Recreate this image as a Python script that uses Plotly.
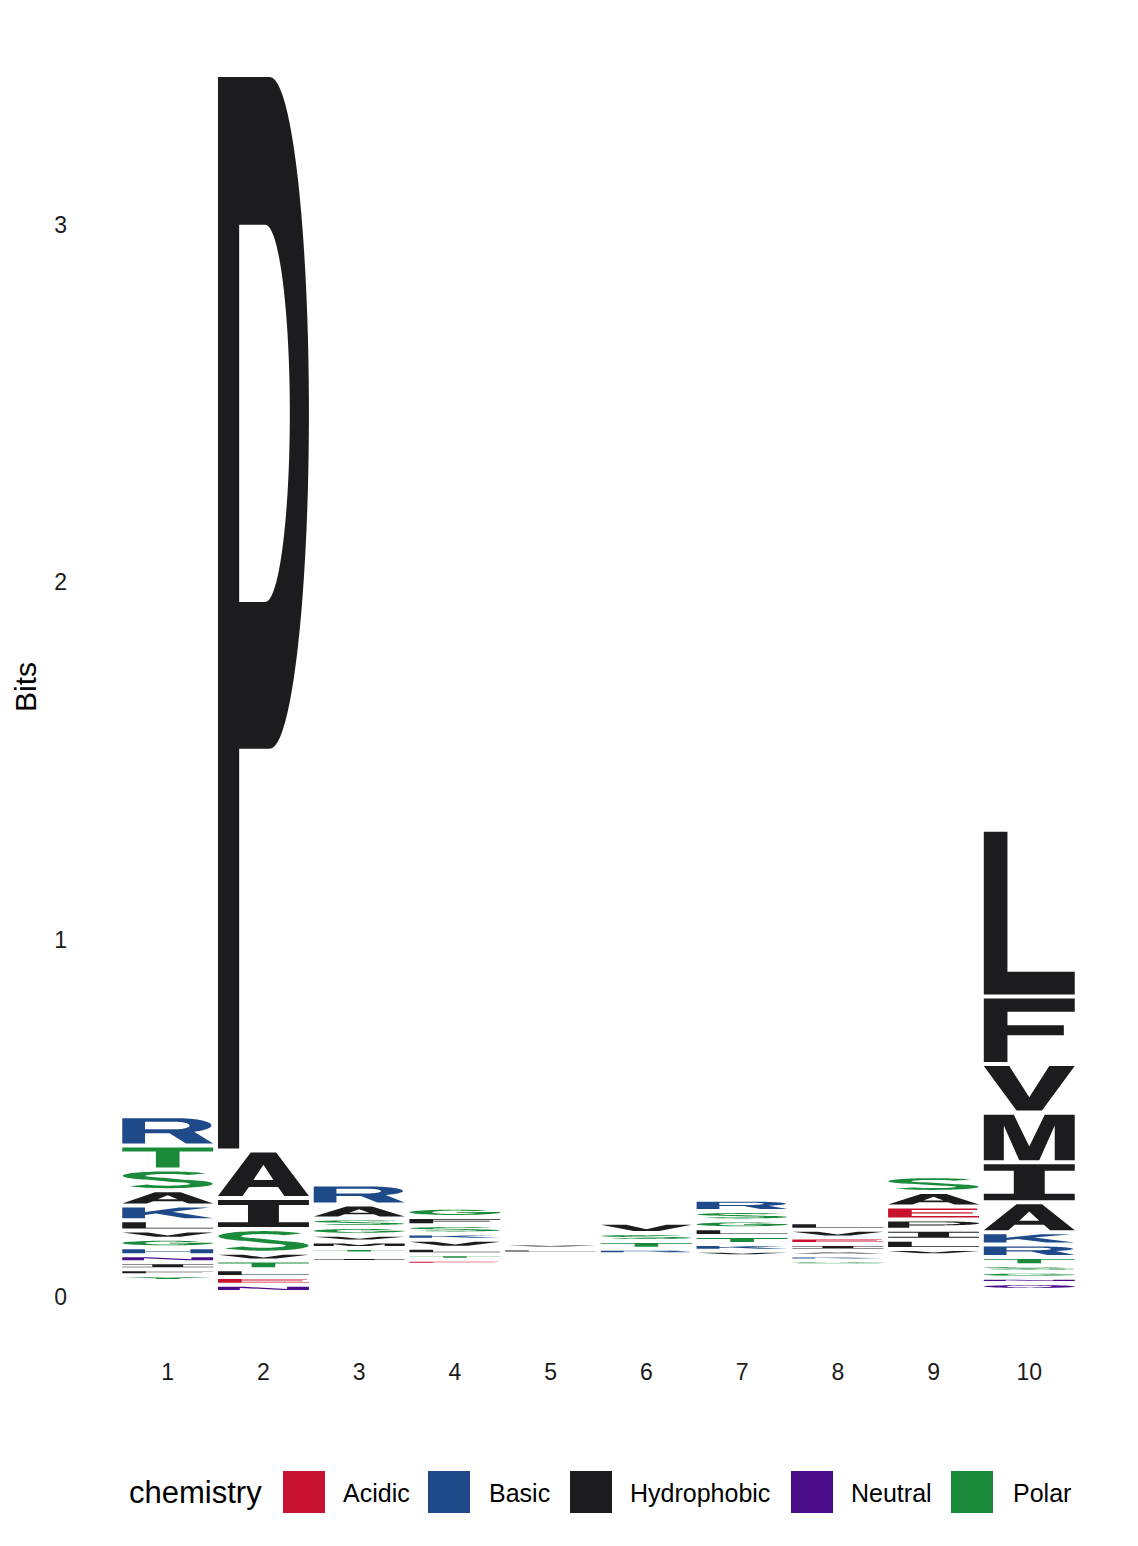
import numpy as np
import plotly.graph_objects as go

# ---------------- data (bottom of stack -> top), heights in bits ----------------
positions = [1, 2, 3, 4, 5, 6, 7, 8, 9, 10]
tick_labels = ["1", "2", "3", "4", "5", "6", "7", "8", "9", "10"]

p1_letters = ["W", "P", "C", "M", "D", "E", "Q", "Y", "F", "I", "N", "H", "G", "V", "L", "K", "A", "S", "T", "R"]
p1_bits = [0.004, 0.005, 0.005, 0.006, 0.007, 0.008, 0.010, 0.016, 0.017, 0.019, 0.020, 0.022, 0.024, 0.023, 0.029, 0.041, 0.043, 0.058, 0.067, 0.082]

p2_letters = ["R", "K", "D", "Q", "N", "E", "L", "T", "V", "S", "I", "A", "P"]
p2_bits = [0.003, 0.003, 0.004, 0.004, 0.020, 0.022, 0.022, 0.024, 0.022, 0.066, 0.087, 0.133, 3.010]

p3_letters = ["C", "W", "Y", "L", "H", "P", "D", "Q", "N", "F", "E", "I", "K", "T", "M", "V", "G", "S", "A", "R"]
p3_bits = [0.007, 0.007, 0.008, 0.009, 0.009, 0.009, 0.009, 0.010, 0.010, 0.010, 0.010, 0.014, 0.010, 0.015, 0.018, 0.019, 0.022, 0.024, 0.039, 0.056]

p4_letters = ["C", "W", "Y", "P", "M", "H", "Q", "N", "D", "A", "R", "E", "T", "L", "V", "K", "S", "F", "G"]
p4_bits = [0.006, 0.007, 0.007, 0.008, 0.008, 0.008, 0.008, 0.009, 0.009, 0.010, 0.010, 0.014, 0.016, 0.018, 0.022, 0.018, 0.023, 0.023, 0.026]

p5_letters = ["W", "C", "Y", "H", "M", "Q", "N", "F", "P", "D", "K", "E", "R", "I", "T", "A", "G", "S", "L", "V"]
p5_bits = [0.0057, 0.0058, 0.0060, 0.0062, 0.0063, 0.0064, 0.0065, 0.0066, 0.0067, 0.0068, 0.0069, 0.0070, 0.0071, 0.0072, 0.0074, 0.0076, 0.0078, 0.0080, 0.014, 0.014]

p6_letters = ["C", "W", "Y", "M", "H", "F", "P", "Q", "N", "D", "E", "I", "K", "L", "G", "A", "R", "T", "S", "V"]
p6_bits = [0.0060, 0.0062, 0.0064, 0.0066, 0.0068, 0.0070, 0.0072, 0.0074, 0.0076, 0.0078, 0.0080, 0.0082, 0.0084, 0.0086, 0.0088, 0.0090, 0.015, 0.022, 0.022, 0.029]

p7_letters = ["C", "W", "Y", "M", "H", "F", "P", "Q", "N", "D", "E", "I", "A", "V", "K", "T", "L", "G", "S", "R"]
p7_bits = [0.0076, 0.0078, 0.0080, 0.0082, 0.0084, 0.0086, 0.0088, 0.0090, 0.0092, 0.0094, 0.0096, 0.0098, 0.0100, 0.015, 0.019, 0.022, 0.022, 0.022, 0.026, 0.032]

p8_letters = ["C", "W", "Y", "M", "H", "F", "P", "Q", "N", "D", "T", "S", "R", "G", "K", "A", "I", "E", "V", "L"]
p8_bits = [0.0056, 0.0058, 0.0060, 0.0062, 0.0064, 0.0066, 0.0068, 0.0070, 0.0072, 0.0074, 0.0076, 0.0078, 0.0080, 0.014, 0.014, 0.014, 0.018, 0.018, 0.022, 0.021]

p9_letters = ["C", "W", "Y", "M", "H", "F", "Q", "N", "D", "R", "K", "T", "G", "V", "L", "I", "P", "E", "A", "S"]
p9_bits = [0.0078, 0.0080, 0.0082, 0.0084, 0.0086, 0.0088, 0.0090, 0.0092, 0.0094, 0.0096, 0.0098, 0.0100, 0.0104, 0.017, 0.026, 0.028, 0.029, 0.036, 0.041, 0.044]

p10_letters = ["W", "D", "E", "Y", "H", "Q", "N", "G", "S", "T", "R", "K", "A", "I", "M", "V", "F", "L"]
p10_bits = [0.003, 0.003, 0.004, 0.005, 0.005, 0.019, 0.015, 0.017, 0.018, 0.023, 0.035, 0.034, 0.084, 0.112, 0.139, 0.136, 0.189, 0.467]

chem_groups = ["Acidic", "Basic", "Hydrophobic", "Neutral", "Polar"]
chem_members = ["DE", "KRH", "AVLIPWFM", "QN", "GSTYC"]
chem_colors = ["#C9122F", "#1E4A89", "#1C1B1D", "#4A0D8A", "#1A8A3B"]

y_ticks = [0, 1, 2, 3]

# ---------------- glyph outlines in a unit box (u right, v up) ----------------
def ell(cx, cy, rx, ry, a0, a1, n=48):
    a = np.radians(np.linspace(a0, a1, n))
    return [(cx + rx * np.cos(t), cy + ry * np.sin(t)) for t in a]


def s_ring():
    a1 = np.radians(np.linspace(30, 250, 44))
    up = np.c_[0.5 + 0.37 * np.cos(a1), 0.74 + 0.185 * np.sin(a1)]
    a2 = np.radians(np.linspace(70, -150, 44))
    lo = np.c_[0.5 + 0.37 * np.cos(a2), 0.26 + 0.185 * np.sin(a2)]
    c = np.vstack([up, lo])
    sc = np.array([0.125, 0.075])
    q = c / sc
    t = np.gradient(q, axis=0)
    t /= np.linalg.norm(t, axis=1)[:, None]
    nrm = np.c_[-t[:, 1], t[:, 0]]
    left = (q + nrm) * sc
    right = (q - nrm) * sc
    ring = np.vstack([left, right[::-1]])
    return [tuple(p) for p in ring]


GLYPHS = {
    "A": [[[(0, 0), (0.36, 1), (0.64, 1), (1, 0), (0.73, 0), (0.66, 0.21), (0.34, 0.21), (0.27, 0)],
           [(0.39, 0.37), (0.61, 0.37), (0.5, 0.72)]]],
    "C": [[ell(0.5, 0.5, 0.5, 0.5, 38, 322) + ell(0.5, 0.5, 0.25, 0.33, 322, 38)]],
    "D": [[[(0, 0), (0.45, 0)] + ell(0.45, 0.5, 0.55, 0.5, -90, 90) + [(0, 1)],
           [(0.25, 0.16), (0.45, 0.16)] + ell(0.45, 0.5, 0.3, 0.34, -90, 90) + [(0.25, 0.84)]]],
    "E": [[[(0, 0), (1, 0), (1, 0.16), (0.26, 0.16), (0.26, 0.43), (0.93, 0.43), (0.93, 0.58),
            (0.26, 0.58), (0.26, 0.84), (0.98, 0.84), (0.98, 1), (0, 1)]]],
    "F": [[[(0, 0), (0.26, 0), (0.26, 0.42), (0.88, 0.42), (0.88, 0.58), (0.26, 0.58),
            (0.26, 0.79), (1, 0.79), (1, 1), (0, 1)]]],
    "G": [[ell(0.5, 0.5, 0.5, 0.5, 40, 360) + [(1, 0.56), (0.52, 0.56), (0.52, 0.41), (0.75, 0.41)]
           + ell(0.5, 0.5, 0.25, 0.33, -15, -320)]],
    "H": [[[(0, 0), (0.25, 0), (0.25, 0.42), (0.75, 0.42), (0.75, 0), (1, 0), (1, 1), (0.75, 1),
            (0.75, 0.58), (0.25, 0.58), (0.25, 1), (0, 1)]]],
    "I": [[[(0, 0), (1, 0), (1, 0.18), (0.67, 0.18), (0.67, 0.82), (1, 0.82), (1, 1), (0, 1),
            (0, 0.82), (0.33, 0.82), (0.33, 0.18), (0, 0.18)]]],
    "K": [[[(0, 0), (0.25, 0), (0.25, 0.3), (0.37, 0.43), (0.69, 0), (1, 0), (0.55, 0.6),
            (0.96, 1), (0.63, 1), (0.25, 0.58), (0.25, 1), (0, 1)]]],
    "L": [[[(0, 0), (1, 0), (1, 0.14), (0.26, 0.14), (0.26, 1), (0, 1)]]],
    "M": [[[(0, 0), (0.22, 0), (0.22, 0.76), (0.39, 0), (0.61, 0), (0.78, 0.76), (0.78, 0),
            (1, 0), (1, 1), (0.67, 1), (0.5, 0.3), (0.33, 1), (0, 1)]]],
    "N": [[[(0, 0), (0.24, 0), (0.24, 0.66), (0.71, 0), (1, 0), (1, 1), (0.76, 1), (0.76, 0.34),
            (0.29, 1), (0, 1)]]],
    "P": [[[(0, 0), (0.233, 0), (0.233, 0.373)] + ell(0.57, 0.6865, 0.43, 0.3135, -90, 90) + [(0, 1)],
           [(0.233, 0.51)] + ell(0.52, 0.686, 0.27, 0.176, -90, 90) + [(0.233, 0.862)]]],
    "Q": [[ell(0.5, 0.5, 0.5, 0.5, 0, 360), ell(0.5, 0.5, 0.25, 0.33, 0, 360)],
          [[(0.55, 0.22), (0.68, 0.34), (1, 0.06), (0.87, 0)]]],
    "R": [[[(0, 0), (0.25, 0), (0.25, 0.41), (0.52, 0.41), (0.70, 0), (1, 0), (0.79, 0.46)]
           + ell(0.6, 0.715, 0.38, 0.285, -50, 90) + [(0, 1)],
           [(0.25, 0.56), (0.58, 0.56)] + ell(0.58, 0.71, 0.16, 0.15, -90, 90) + [(0.25, 0.86)]]],
    "S": [[s_ring()]],
    "T": [[[(0.37, 0), (0.63, 0), (0.63, 0.8), (1, 0.8), (1, 1), (0, 1), (0, 0.8), (0.37, 0.8)]]],
    "V": [[[(0, 1), (0.36, 0), (0.64, 0), (1, 1), (0.72, 1), (0.5, 0.3), (0.28, 1)]]],
    "W": [[[(0, 1), (0.2, 0), (0.41, 0), (0.5, 0.6), (0.59, 0), (0.8, 0), (1, 1), (0.79, 1),
            (0.69, 0.36), (0.6, 1), (0.4, 1), (0.31, 0.36), (0.21, 1)]]],
    "Y": [[[(0, 1), (0.37, 0.42), (0.37, 0), (0.63, 0), (0.63, 0.42), (1, 1), (0.71, 1),
            (0.5, 0.66), (0.29, 1)]]],
}

letter_color = {}
for grp, members, col in zip(chem_groups, chem_members, chem_colors):
    for aa in members:
        letter_color[aa] = col

# ---------------- build figure ----------------
LETTER_W = 0.95          # width of a letter in x units
GAP = 4.0 / 357.3        # vertical whitespace between stacked letters (bits)

all_letters = [p1_letters, p2_letters, p3_letters, p4_letters, p5_letters,
               p6_letters, p7_letters, p8_letters, p9_letters, p10_letters]
all_bits = [p1_bits, p2_bits, p3_bits, p4_bits, p5_bits,
            p6_bits, p7_bits, p8_bits, p9_bits, p10_bits]

shapes = []
for xi, letters, bits in zip(positions, all_letters, all_bits):
    base = 0.0
    for aa, h in zip(letters, bits):
        y0 = base
        base += h
        gh = h - GAP
        if gh <= 0:
            continue
        gy0 = y0 + GAP / 2
        x0 = xi - LETTER_W / 2
        for part in GLYPHS[aa]:
            d = ""
            for ring in part:
                pts = [(x0 + u * LETTER_W, gy0 + v * gh) for u, v in ring]
                d += "M" + "L".join(f"{px:.4f},{py:.5f}" for px, py in pts) + "Z"
            shapes.append(dict(type="path", path=d, xref="x", yref="y",
                               fillcolor=letter_color[aa], line=dict(width=0),
                               fillrule="evenodd", layer="above"))

FONT = "Liberation Sans, Arial, Helvetica, sans-serif"
W, H = 1138, 1546
ML, MR, MT, MB = 72, 13, 16, 188
PW, PH = W - ML - MR, H - MT - MB


def px_x(p):
    return (p - ML) / PW


def px_y(p):
    return (H - MB - p) / PH


# legend (drawn manually to match the large square keys)
legend_title_x = 127
swatch_x = [283, 428, 570, 791, 951]
label_x = [341, 487, 628, 849, 1011]
leg_y = 1492
annotations = [dict(text="chemistry", x=px_x(legend_title_x), y=px_y(leg_y + 1), xref="paper", yref="paper",
                    xanchor="left", yanchor="middle", showarrow=False,
                    font=dict(family=FONT, size=31, color="#000000"))]
for grp, col, sx, lx in zip(chem_groups, chem_colors, swatch_x, label_x):
    shapes.append(dict(type="rect", xref="paper", yref="paper",
                       x0=px_x(sx), x1=px_x(sx + 42), y0=px_y(leg_y - 21), y1=px_y(leg_y + 21),
                       fillcolor=col, line=dict(width=0)))
    annotations.append(dict(text=grp, x=px_x(lx), y=px_y(leg_y + 1), xref="paper", yref="paper",
                            xanchor="left", yanchor="middle", showarrow=False,
                            font=dict(family=FONT, size=25, color="#000000")))

fig = go.Figure()
fig.add_trace(go.Scatter(x=[], y=[], mode="markers", showlegend=False, hoverinfo="skip"))

fig.update_layout(
    width=W, height=H,
    margin=dict(l=ML, r=MR, t=MT, b=MB),
    paper_bgcolor="white", plot_bgcolor="white",
    showlegend=False,
    shapes=shapes,
    annotations=annotations,
    font=dict(family=FONT, color="#000000"),
    xaxis=dict(range=[0, 11], tickmode="array", tickvals=positions, ticktext=tick_labels,
               showgrid=False, zeroline=False, showline=False, ticks="",
               ticklabelstandoff=-2,
               tickfont=dict(family=FONT, size=23, color="#1a1a1a")),
    yaxis=dict(range=[-0.1707, 3.585], tickmode="array", tickvals=y_ticks,
               ticktext=[str(v) for v in y_ticks],
               showgrid=False, zeroline=False, showline=False, ticks="",
               ticklabelstandoff=4,
               tickfont=dict(family=FONT, size=23, color="#1a1a1a"),
               title=dict(text="Bits", font=dict(family=FONT, size=30, color="#000000"), standoff=8)),
)

fig.write_html("out.html")
